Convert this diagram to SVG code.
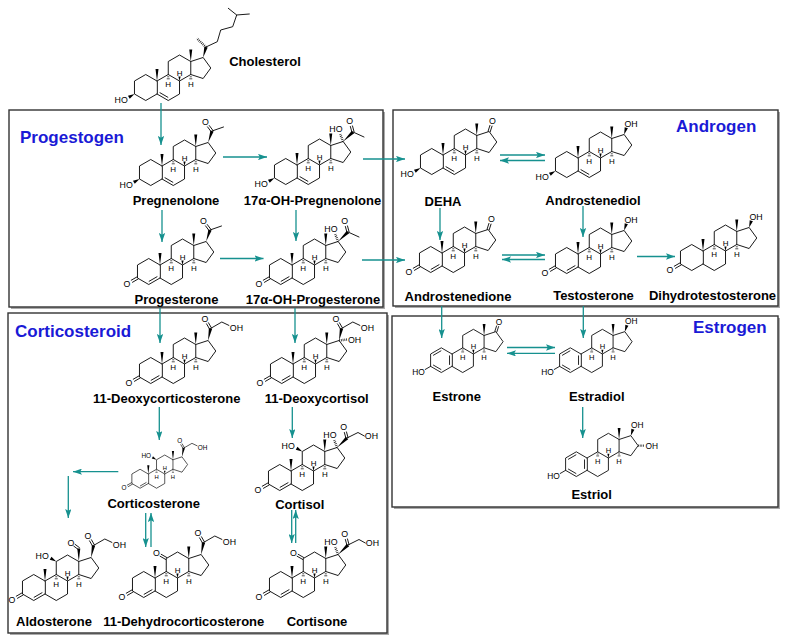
<svg xmlns="http://www.w3.org/2000/svg" xmlns:xlink="http://www.w3.org/1999/xlink" width="788" height="642" viewBox="0 0 788 642">
<style>
.b{fill:none;stroke:#000;stroke-width:0.9;stroke-linecap:round;stroke-linejoin:round}
.hs{fill:none;stroke:#000;stroke-width:2.4;stroke-dasharray:0.7 1.1}
.hl{fill:none;stroke:#000;stroke-width:0.7}
polygon{fill:#000}
.box{fill:#fff;stroke:#333;stroke-width:1.4}
.sh{fill:#aaaaaa}
.ar{fill:none;stroke:#16918f;stroke-width:1.3;marker-end:url(#ah)}
text{font-family:"Liberation Sans",Arial,sans-serif;fill:#000}
.t{font-size:8.8px}
.h{font-size:8px;text-anchor:middle}
.m{text-anchor:middle}
.e{text-anchor:end}
.lbl{font-size:13px;font-weight:bold;text-anchor:middle}
.ttl{font-size:17px;font-weight:bold;fill:#1a1ad6}
</style>
<defs>
<marker id="ah" viewBox="0 0 10 7" refX="10" refY="3.5" markerWidth="9" markerHeight="6.3" markerUnits="userSpaceOnUse" orient="auto">
<path d="M0,0 L10,3.5 L0,7 L2,3.5 Z" fill="#16918f"/>
</marker>
<path id="ring" class="b" d="M0,0 L-11.26,-6.5 L-22.52,0 L-22.52,13 L-11.26,19.5 L0,13 Z M0,0 L11.26,-6.5 L22.52,0 L22.52,13 L11.26,19.5 L0,13 M11.26,-6.5 L11.26,-19.5 L22.52,-26 L33.78,-19.5 L33.78,-6.5 L22.52,0 M33.78,-19.5 L46.14,-23.52 L53.79,-13 L46.14,-2.48 L33.78,-6.5"/>
<polygon id="me10" points="0,0 -1.5,-12 1.5,-12"/>
<polygon id="me13" points="33.78,-19.5 32.28,-31.5 35.28,-31.5"/>
<g id="hst"><polygon points="22.52,0 21.4,-4.6 23.64,-4.6"/><path class="hl" d="M10.26,-4.2h2M9.76,-2.2h3M32.78,-4.2h2M32.28,-2.2h3"/></g>
<path id="d5" class="b" d="M2.99,11.73L10.87,16.28"/>
<path id="d4" class="b" d="M-10.87,16.28L-2.99,11.73"/>
<path id="arom" class="b" d="M-11.65,-3.28L-19.53,1.28M-19.53,11.72L-11.65,16.28M-2.6,1.95V11.05"/>
<polygon id="oh3bw" points="-22.52,13 -27.25,17.81 -29.05,14.69"/>
<path id="oh3" class="b" d="M-22.52,13L-28.15,16.25"/>
<path id="k3" class="b" d="M-21.92,14.04L-27.55,17.29M-23.12,11.96L-28.75,15.21"/>
<g id="acetyl"><polygon points="46.14,-23.52 51.61,-34.46 48.39,-35.54"/><path class="b" d="M50.88,-35.66L47.28,-40.46M49.12,-34.34L45.52,-39.14M50,-35L61.5,-39"/></g>
<g id="acetyl17oh"><path class="hs" d="M46.14,-23.52L43.2,-30.8"/><polygon points="46.14,-23.52 57.18,-31.77 54.82,-34.23"/><path class="b" d="M57.06,-33.29L55.48,-39.08M54.94,-32.71L53.36,-38.5M56,-33L67,-28"/></g>
<g id="cort"><polygon points="46.14,-23.52 50.17,-35.17 46.83,-35.83"/><path class="b" d="M49.45,-36.05L46.45,-41.25M47.55,-34.95L44.55,-40.15M48.5,-35.5L59.8,-42L66.9,-38.6"/></g>
<g id="cort17oh"><path class="hs" d="M46.14,-23.52L43.2,-30.8"/><polygon points="46.14,-23.52 57.18,-31.77 54.82,-34.23"/><path class="b" d="M57.06,-33.29L55.48,-39.08M54.94,-32.71L53.36,-38.5M56,-33L67,-38.5L73.3,-35"/></g>
<path id="oh17a" class="hs" d="M46.14,-23.52L54.3,-24.5"/>
<polygon id="oh11b" points="11.26,-19.5 6.48,-24.22 4.78,-21.28"/>
<path id="k11" class="b" d="M11.81,-20.45L6.18,-23.7M10.71,-18.55L5.08,-21.8"/>
<g id="cho18"><polygon points="33.78,-19.5 32.28,-32.5 35.28,-32.5"/><path class="b" d="M34.44,-33.38L30.04,-36.68M33.12,-31.62L28.72,-34.92"/></g>
<path id="k17" class="b" d="M47.19,-23.18L49.04,-28.89M45.09,-23.86L46.94,-29.57"/>
<polygon id="oh17b" points="46.14,-23.52 49.92,-29.65 46.68,-30.71"/>
<path id="oh16a" class="hs" d="M53.79,-13L60.8,-13"/>
<g id="cholchain"><polygon points="46.14,-23.52 50.64,-33.55 47.36,-34.45"/><path class="hs" d="M49,-34L39.7,-42.7"/><path class="b" d="M49,-34L60.3,-39.3L63.7,-51L75.7,-54.3L79.7,-66L71.3,-72.7M79.7,-66L92.3,-67"/></g>
</defs>
<rect width="788" height="642" fill="#fff"/>
<g id="boxes">
<rect class="sh" x="11" y="112" width="374" height="197"/>
<rect class="box" x="9" y="110" width="374" height="197"/>
<rect class="sh" x="395" y="112" width="385" height="196"/>
<rect class="box" x="393" y="110" width="385" height="196"/>
<rect class="sh" x="10" y="315" width="379" height="320"/>
<rect class="box" x="8" y="313" width="379" height="320"/>
<rect class="sh" x="394" y="318" width="386" height="191"/>
<rect class="box" x="392" y="316" width="386" height="191"/>
</g>
<g id="titles">
<text class="ttl" x="20" y="143">Progestogen</text>
<text class="ttl" x="676" y="132">Androgen</text>
<text class="ttl" x="15" y="337">Corticosteroid</text>
<text class="ttl" x="693" y="333">Estrogen</text>
</g>
<g id="connectors">
<path class="ar" d="M161,103V145"/>
<path class="ar" d="M223,157H267"/>
<path class="ar" d="M162,210V242"/>
<path class="ar" d="M296,210V241"/>
<path class="ar" d="M220,258.5H263.5"/>
<path class="ar" d="M363,159H405"/>
<path class="ar" d="M362,260H405"/>
<path class="ar" d="M500,155H545"/>
<path class="ar" d="M545,160.5H500"/>
<path class="ar" d="M440,208V240"/>
<path class="ar" d="M583,206V237"/>
<path class="ar" d="M502,255H545"/>
<path class="ar" d="M545,259.5H502"/>
<path class="ar" d="M637,256.5H675"/>
<path class="ar" d="M441.7,306V338"/>
<path class="ar" d="M583.3,306V338"/>
<path class="ar" d="M507,347.5H555"/>
<path class="ar" d="M555,353.3H507"/>
<path class="ar" d="M582.7,407V438"/>
<path class="ar" d="M160,308V343"/>
<path class="ar" d="M295,308V343"/>
<path class="ar" d="M159.3,407V440"/>
<path class="ar" d="M292.3,407V438"/>
<path class="ar" d="M118.3,471.7H73"/>
<path class="ar" d="M68.3,476V518"/>
<path class="ar" d="M145.7,513V547"/>
<path class="ar" d="M151,547V513"/>
<path class="ar" d="M291.7,510V543"/>
<path class="ar" d="M295.7,543V510"/>
</g>
<g id="cholesterol">
<g transform="translate(157,81)">
<use href="#ring"/><use href="#me10"/><use href="#me13"/><use href="#hst"/><use href="#d5"/><use href="#oh3bw"/><use href="#cholchain"/>
<text class="h" x="22.52" y="-5.3">H</text><text class="h" x="11.26" y="6.2">H</text><text class="h" x="33.78" y="6.2">H</text>
<text class="t e" x="-29.2" y="21.8">HO</text>
</g>
<text class="lbl" x="265" y="66">Cholesterol</text>
</g>
<g id="pregnenolone">
<g transform="translate(162,166)">
<use href="#ring"/><use href="#me10"/><use href="#me13"/><use href="#hst"/><use href="#d5"/><use href="#oh3bw"/><use href="#acetyl"/>
<text class="h" x="22.52" y="-5.3">H</text><text class="h" x="11.26" y="6.2">H</text><text class="h" x="33.78" y="6.2">H</text>
<text class="t e" x="-29.2" y="21.8">HO</text><text class="t m" x="43.4" y="-40.8">O</text>
</g>
<text class="lbl" x="176" y="205">Pregnenolone</text>
</g>
<g id="oh-pregnenolone">
<g transform="translate(297,165)">
<use href="#ring"/><use href="#me10"/><use href="#me13"/><use href="#hst"/><use href="#d5"/><use href="#oh3bw"/><use href="#acetyl17oh"/>
<text class="h" x="22.52" y="-5.3">H</text><text class="h" x="11.26" y="6.2">H</text><text class="h" x="33.78" y="6.2">H</text>
<text class="t e" x="-29.2" y="21.8">HO</text><text class="t e" x="45.5" y="-33">HO</text><text class="t m" x="52.6" y="-40.9">O</text>
</g>
<text class="lbl" x="312.5" y="205">17α-OH-Pregnenolone</text>
</g>
<g id="progesterone">
<g transform="translate(160,265)">
<use href="#ring"/><use href="#me10"/><use href="#me13"/><use href="#hst"/><use href="#d4"/><use href="#k3"/><use href="#acetyl"/>
<text class="h" x="22.52" y="-5.3">H</text><text class="h" x="11.26" y="6.2">H</text><text class="h" x="33.78" y="6.2">H</text>
<text class="t m" x="-33.2" y="22.3">O</text><text class="t m" x="43.4" y="-40.8">O</text>
</g>
<text class="lbl" x="176.5" y="304">Progesterone</text>
</g>
<g id="oh-progesterone">
<g transform="translate(292,265)">
<use href="#ring"/><use href="#me10"/><use href="#me13"/><use href="#hst"/><use href="#d4"/><use href="#k3"/><use href="#acetyl17oh"/>
<text class="h" x="22.52" y="-5.3">H</text><text class="h" x="11.26" y="6.2">H</text><text class="h" x="33.78" y="6.2">H</text>
<text class="t m" x="-33.2" y="22.3">O</text><text class="t e" x="45.5" y="-33">HO</text><text class="t m" x="52.6" y="-40.9">O</text>
</g>
<text class="lbl" x="313" y="304">17α-OH-Progesterone</text>
</g>
<g id="deha">
<g transform="translate(443,155)">
<use href="#ring"/><use href="#me10"/><use href="#me13"/><use href="#hst"/><use href="#d5"/><use href="#oh3bw"/><use href="#k17"/>
<text class="h" x="22.52" y="-5.3">H</text><text class="h" x="11.26" y="6.2">H</text><text class="h" x="33.78" y="6.2">H</text>
<text class="t e" x="-29.2" y="21.8">HO</text><text class="t m" x="49.5" y="-30.9">O</text>
</g>
<text class="lbl" x="443" y="206">DEHA</text>
</g>
<g id="androstenediol">
<g transform="translate(578,158)">
<use href="#ring"/><use href="#me10"/><use href="#me13"/><use href="#hst"/><use href="#d5"/><use href="#oh3bw"/><use href="#oh17b"/>
<text class="h" x="22.52" y="-5.3">H</text><text class="h" x="11.26" y="6.2">H</text><text class="h" x="33.78" y="6.2">H</text>
<text class="t e" x="-29.2" y="21.8">HO</text><text class="t" x="46.4" y="-31.4">OH</text>
</g>
<text class="lbl" x="593" y="205">Androstenediol</text>
</g>
<g id="androstenedione">
<g transform="translate(442,253)">
<use href="#ring"/><use href="#me10"/><use href="#me13"/><use href="#hst"/><use href="#d4"/><use href="#k3"/><use href="#k17"/>
<text class="h" x="22.52" y="-5.3">H</text><text class="h" x="11.26" y="6.2">H</text><text class="h" x="33.78" y="6.2">H</text>
<text class="t m" x="-33.2" y="22.3">O</text><text class="t m" x="49.5" y="-30.9">O</text>
</g>
<text class="lbl" x="458" y="301">Androstenedione</text>
</g>
<g id="testosterone">
<g transform="translate(578,254)">
<use href="#ring"/><use href="#me10"/><use href="#me13"/><use href="#hst"/><use href="#d4"/><use href="#k3"/><use href="#oh17b"/>
<text class="h" x="22.52" y="-5.3">H</text><text class="h" x="11.26" y="6.2">H</text><text class="h" x="33.78" y="6.2">H</text>
<text class="t m" x="-33.2" y="22.3">O</text><text class="t" x="46.4" y="-31.4">OH</text>
</g>
<text class="lbl" x="593.5" y="300">Testosterone</text>
</g>
<g id="dihydrotestosterone">
<g transform="translate(703,251)">
<use href="#ring"/><use href="#me10"/><use href="#me13"/><use href="#hst"/><use href="#k3"/><use href="#oh17b"/>
<text class="h" x="22.52" y="-5.3">H</text><text class="h" x="11.26" y="6.2">H</text><text class="h" x="33.78" y="6.2">H</text>
<text class="t m" x="-33.2" y="22.3">O</text><text class="t" x="46.4" y="-31.4">OH</text>
</g>
<text class="lbl" x="712.5" y="300">Dihydrotestosterone</text>
</g>
<g id="deoxycorticosterone">
<g transform="translate(162,364)">
<use href="#ring"/><use href="#me10"/><use href="#me13"/><use href="#hst"/><use href="#d4"/><use href="#k3"/><use href="#cort"/>
<text class="h" x="22.52" y="-5.3">H</text><text class="h" x="11.26" y="6.2">H</text><text class="h" x="33.78" y="6.2">H</text>
<text class="t m" x="-33.2" y="22.3">O</text><text class="t m" x="43" y="-41.9">O</text><text class="t" x="67.8" y="-33.4">OH</text>
</g>
<text class="lbl" x="166.7" y="403">11-Deoxycorticosterone</text>
</g>
<g id="deoxycortisol">
<g transform="translate(293,364)">
<use href="#ring"/><use href="#me10"/><use href="#me13"/><use href="#hst"/><use href="#d4"/><use href="#k3"/><use href="#cort"/><use href="#oh17a"/>
<text class="h" x="22.52" y="-5.3">H</text><text class="h" x="11.26" y="6.2">H</text><text class="h" x="33.78" y="6.2">H</text>
<text class="t m" x="-33.2" y="22.3">O</text><text class="t m" x="43" y="-41.9">O</text><text class="t" x="67.8" y="-33.4">OH</text><text class="t" x="55" y="-21.3">OH</text>
</g>
<text class="lbl" x="316.7" y="403">11-Deoxycortisol</text>
</g>
<g id="corticosterone">
<g transform="translate(148.3,474) scale(0.73)">
<use href="#ring"/><use href="#me10"/><use href="#me13"/><use href="#hst"/><use href="#d4"/><use href="#k3"/><use href="#cort"/><use href="#oh11b"/>
<text class="h" x="22.52" y="-5.3">H</text><text class="h" x="11.26" y="6.2">H</text><text class="h" x="33.78" y="6.2">H</text>
<text class="t m" x="-33.2" y="22.3">O</text><text class="t m" x="43" y="-41.9">O</text><text class="t" x="67.8" y="-33.4">OH</text><text class="t e" x="3.8" y="-22.2">HO</text>
</g>
<text class="lbl" x="153.7" y="508">Corticosterone</text>
</g>
<g id="cortisol">
<g transform="translate(291,471)">
<use href="#ring"/><use href="#me10"/><use href="#me13"/><use href="#hst"/><use href="#d4"/><use href="#k3"/><use href="#cort17oh"/><use href="#oh11b"/>
<text class="h" x="22.52" y="-5.3">H</text><text class="h" x="11.26" y="6.2">H</text><text class="h" x="33.78" y="6.2">H</text>
<text class="t m" x="-33.2" y="22.3">O</text><text class="t e" x="45.5" y="-33">HO</text><text class="t m" x="52.6" y="-40.9">O</text><text class="t" x="73.8" y="-31.8">OH</text><text class="t e" x="3.8" y="-22.2">HO</text>
</g>
<text class="lbl" x="299.7" y="509">Cortisol</text>
</g>
<g id="aldosterone">
<g transform="translate(45,581)">
<use href="#ring"/><use href="#me10"/><use href="#cho18"/><use href="#hst"/><use href="#d4"/><use href="#k3"/><use href="#cort"/><use href="#oh11b"/>
<text class="h" x="22.52" y="-5.3">H</text><text class="h" x="11.26" y="6.2">H</text><text class="h" x="33.78" y="6.2">H</text>
<text class="t m" x="-33.2" y="22.3">O</text><text class="t m" x="43" y="-41.9">O</text><text class="t" x="67.8" y="-33.4">OH</text><text class="t e" x="3.8" y="-22.2">HO</text><text class="t m" x="25.8" y="-35.4">O</text>
</g>
<text class="lbl" x="54" y="626">Aldosterone</text>
</g>
<g id="dehydrocorticosterone">
<g transform="translate(155,578)">
<use href="#ring"/><use href="#me10"/><use href="#me13"/><use href="#hst"/><use href="#d4"/><use href="#k3"/><use href="#cort"/><use href="#k11"/>
<text class="h" x="22.52" y="-5.3">H</text><text class="h" x="11.26" y="6.2">H</text><text class="h" x="33.78" y="6.2">H</text>
<text class="t m" x="-33.2" y="22.3">O</text><text class="t m" x="43" y="-41.9">O</text><text class="t" x="67.8" y="-33.4">OH</text><text class="t m" x="1.3" y="-22.2">O</text>
</g>
<text class="lbl" x="183.7" y="626">11-Dehydrocorticosterone</text>
</g>
<g id="cortisone">
<g transform="translate(292,578)">
<use href="#ring"/><use href="#me10"/><use href="#me13"/><use href="#hst"/><use href="#d4"/><use href="#k3"/><use href="#cort17oh"/><use href="#k11"/>
<text class="h" x="22.52" y="-5.3">H</text><text class="h" x="11.26" y="6.2">H</text><text class="h" x="33.78" y="6.2">H</text>
<text class="t m" x="-33.2" y="22.3">O</text><text class="t e" x="45.5" y="-33">HO</text><text class="t m" x="52.6" y="-40.9">O</text><text class="t" x="73.8" y="-31.8">OH</text><text class="t m" x="1.3" y="-22.2">O</text>
</g>
<text class="lbl" x="317" y="626">Cortisone</text>
</g>
<g id="estrone">
<g transform="translate(452,354) scale(0.95)">
<use href="#ring"/><use href="#me13"/><use href="#hst"/><use href="#arom"/><use href="#oh3"/><use href="#k17"/>
<text class="h" x="22.52" y="-5.3">H</text><text class="h" x="11.26" y="6.2">H</text><text class="h" x="33.78" y="6.2">H</text>
<text class="t e" x="-28.6" y="21.8">HO</text><text class="t m" x="49.5" y="-30.9">O</text>
</g>
<text class="lbl" x="456.7" y="401">Estrone</text>
</g>
<g id="estradiol">
<g transform="translate(581,354) scale(0.95)">
<use href="#ring"/><use href="#me13"/><use href="#hst"/><use href="#arom"/><use href="#oh3"/><use href="#oh17b"/>
<text class="h" x="22.52" y="-5.3">H</text><text class="h" x="11.26" y="6.2">H</text><text class="h" x="33.78" y="6.2">H</text>
<text class="t e" x="-28.6" y="21.8">HO</text><text class="t" x="46.4" y="-31.4">OH</text>
</g>
<text class="lbl" x="596.7" y="401">Estradiol</text>
</g>
<g id="estriol">
<g transform="translate(587,458) scale(0.95)">
<use href="#ring"/><use href="#me13"/><use href="#hst"/><use href="#arom"/><use href="#oh3"/><use href="#oh17b"/><use href="#oh16a"/>
<text class="h" x="22.52" y="-5.3">H</text><text class="h" x="11.26" y="6.2">H</text><text class="h" x="33.78" y="6.2">H</text>
<text class="t e" x="-28.6" y="21.8">HO</text><text class="t" x="46.4" y="-31.4">OH</text><text class="t" x="61.5" y="-9.9">OH</text>
</g>
<text class="lbl" x="591.7" y="499">Estriol</text>
</g>
</svg>
